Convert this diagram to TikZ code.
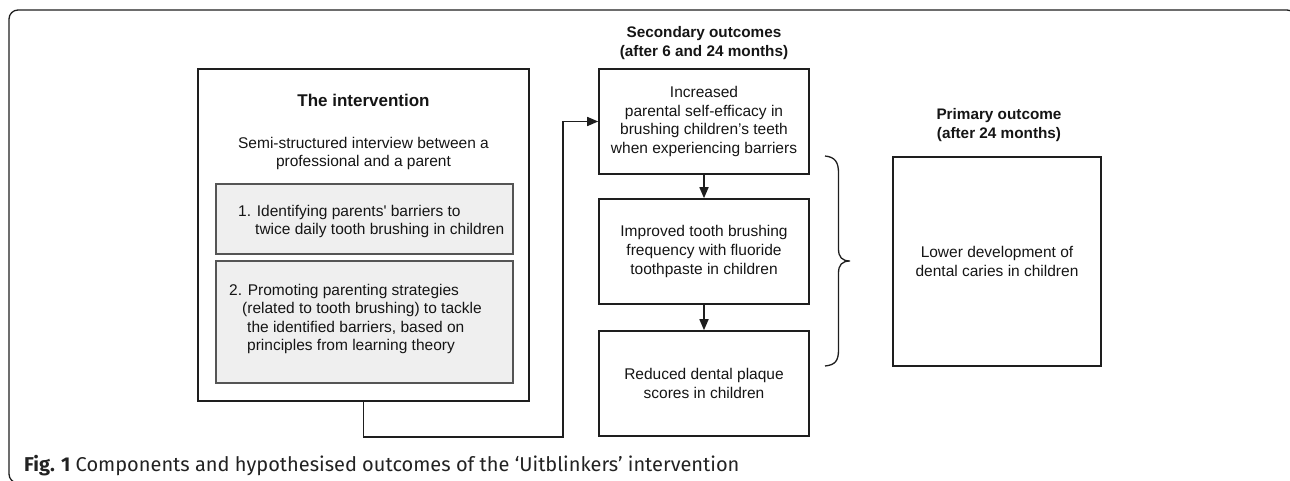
\documentclass[tikz,border=0pt]{standalone}
\usepackage{fontspec}
\setmainfont{Liberation Sans}[Ligatures=TeXOff]
\newfontfamily\capfont{Fira Sans}
\usetikzlibrary{arrows.meta,calc}
\definecolor{linecol}{HTML}{1E1E1E}
\definecolor{txt}{HTML}{151515}
\definecolor{captxt}{HTML}{222222}
\definecolor{greyfill}{HTML}{EFEFEF}
\definecolor{greyline}{HTML}{555555}
\begin{document}
\begin{tikzpicture}[x=1pt,y=-1pt,
  box/.style={draw=linecol,line width=1.6pt,inner sep=0pt,align=center,text=txt,
    font=\fontsize{15.5}{18.6}\selectfont},
  greybox/.style={draw=greyline,fill=greyfill,line width=1.1pt,inner sep=0pt},
  body/.style={font=\fontsize{15.5}{18.6}\selectfont,align=center,text=txt,inner sep=0pt},
  head/.style={font=\fontsize{15.3}{19.5}\selectfont\bfseries,align=center,text=txt,inner sep=0pt},
  arr/.style={draw=linecol,line width=1.6pt,-{Triangle[length=11pt,width=9pt]}},
  framestyle/.style={draw=linecol,line width=1.3pt,rounded corners=9pt},
]
\useasboundingbox (0,0) rectangle (1290,481);
\clip (0,0) rectangle (1290,481);
\draw[framestyle] (9,10) rectangle (1296,483);

% intervention box
\node[box,minimum width=331pt,minimum height=332pt] (left) at (363.5,235) {};
\node[font=\fontsize{17}{20}\selectfont\bfseries,text=txt,inner sep=0pt] (title) at (363.5,100) {The intervention};
\node[body,font=\fontsize{15.5}{18}\selectfont] (semi) at (363.5,153) {Semi-structured interview between a\\professional and a parent};
\node[greybox,minimum width=297pt,minimum height=70pt] (g1) at (364.5,219) {};
\node[greybox,minimum width=297pt,minimum height=122pt] (g2) at (364.5,322) {};
\node[body,align=left,anchor=west] (g1t) at (238,221.5) {1. Identifying parents' barriers to\\\hspace*{17pt}twice daily tooth brushing in children};
\node[body,align=left,anchor=west] (g2t) at (229,319) {2. Promoting parenting strategies\\\hspace*{13pt}(related to tooth brushing) to tackle\\\hspace*{18pt}the identified barriers, based on\\\hspace*{18pt}principles from learning theory};

% secondary outcomes
\node[head] (sechead) at (704,43) {Secondary outcomes\\(after 6 and 24 months)};
\node[box,minimum width=210pt,minimum height=105pt] (s1) at (704,121.5) {Increased\\parental self-efficacy in\\brushing children’s teeth\\when experiencing barriers};
\node[box,minimum width=210pt,minimum height=105pt] (s2) at (704,251.5) {Improved tooth brushing\\frequency with fluoride\\toothpaste in children};
\node[box,minimum width=210pt,minimum height=105pt] (s3) at (704,383.5) {Reduced dental plaque\\scores in children};

% primary outcome
\node[head,font=\fontsize{15.3}{19}\selectfont\bfseries] (primhead) at (999,125.5) {Primary outcome\\(after 24 months)};
\node[box,minimum width=208pt,minimum height=209pt] (prim) at (997,261.5) {Lower development of\\dental caries in children};

% connectors
\coordinate (c1) at (563,437);
\draw[arr] (left.south) |- (c1) |- (s1.west);
\draw[arr] (s1.south) -- (s2.north);
\draw[arr] (s2.south) -- (s3.north);

% brace
\draw[draw=linecol,line width=1.3pt]
  (825,156) .. controls (835,157) and (838.5,162) .. (838.5,173) -- (838.5,249)
  .. controls (838.5,257) and (842,261) .. (850,261)
  .. controls (842,261) and (838.5,265) .. (838.5,273) -- (838.5,350)
  .. controls (838.5,361) and (835,365) .. (825,366);

% caption
\node[anchor=base west,inner sep=0pt,text=captxt,font=\capfont\fontsize{20}{23}\selectfont] (cap) at (24,471) {\textbf{Fig. 1} Components and hypothesised outcomes of the ‘Uitblinkers’ intervention};
\end{tikzpicture}
\end{document}
